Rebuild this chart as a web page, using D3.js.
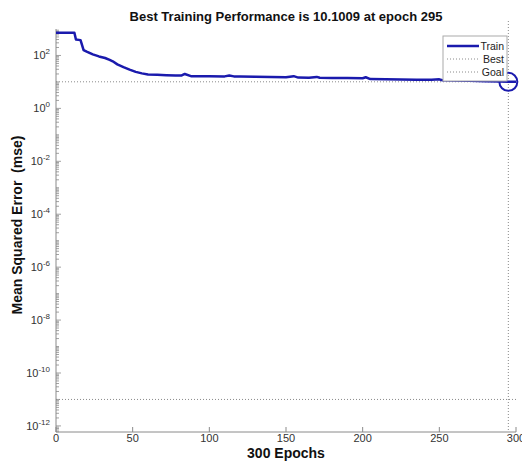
<!DOCTYPE html>
<html>
<head>
<meta charset="utf-8">
<script src="https://cdn.jsdelivr.net/npm/d3@7"></script>
<style>
  body { margin: 0; background: #fff; }
  svg text { font-family: "Liberation Sans", Arial, sans-serif; }
</style>
</head>
<body>
<svg width="522" height="462"></svg>
<script>
// training record
const epochs = [0, 12, 13, 16, 18, 20, 24, 28, 32, 35, 37, 40, 44, 48, 52, 56, 60, 66, 72, 78, 82, 84, 88,
  100, 110, 113, 116, 120, 130, 140, 150, 155, 158, 165, 170, 172, 180, 190, 200, 202, 205, 215, 225,
  235, 245, 250, 252, 260, 270, 280, 290, 295, 300];
const mse = [720, 720, 400, 380, 160, 140, 110, 92, 80, 68, 60, 46, 36, 29, 24, 21, 19, 18.5, 18, 17.5, 17.5, 20, 16.5,
  16.3, 16.2, 17.5, 16.2, 16, 15.8, 15.2, 15, 16.5, 14.6, 14.5, 15.5, 14.3, 14.2, 14, 13.8, 15, 12.8, 12.6, 12.4,
  12.2, 12, 12.5, 11.5, 11.2, 11, 10.7, 10.4, 10.1, 10.1];

const bestEpoch = 295;
const bestPerf = 10.1009;
const goal = 1e-11;
const xTicks = [0, 50, 100, 150, 200, 250, 300];
const yTickExps = [2, 0, -2, -4, -6, -8, -10, -12];
const legendNames = ['Train', 'Best', 'Goal'];

const svg = d3.select('svg');
const pLeft = 56, pRight = 516, pTop = 29, pBottom = 432;
const blue = '#1a1aad', grey = '#8a8a8a';

const x = d3.scaleLinear().domain([0, 300]).range([pLeft, pRight]);
const y = d3.scaleLog().domain([Math.pow(10, -12.23), 1000]).range([pBottom, pTop]);

// title
svg.append('text').attr('x', (pLeft + pRight) / 2).attr('y', 21)
  .attr('text-anchor', 'middle').style('font-size', '13px').style('font-weight', 'bold')
  .attr('fill', '#111')
  .text('Best Training Performance is ' + bestPerf + ' at epoch ' + bestEpoch);

// axes lines
svg.append('line').attr('x1', pLeft).attr('x2', pRight).attr('y1', pBottom).attr('y2', pBottom)
  .attr('stroke', grey).attr('stroke-width', 1);
svg.append('line').attr('x1', pLeft).attr('x2', pLeft).attr('y1', pTop).attr('y2', pBottom)
  .attr('stroke', grey).attr('stroke-width', 1);

// x ticks (inward)
svg.selectAll('.xt').data(xTicks).join('line')
  .attr('x1', d => x(d)).attr('x2', d => x(d)).attr('y1', pBottom).attr('y2', pBottom - 5)
  .attr('stroke', grey);
svg.selectAll('.xl').data(xTicks).join('text')
  .attr('x', d => x(d)).attr('y', pBottom + 10).attr('text-anchor', 'middle')
  .style('font-size', '11px').attr('fill', '#333').text(d => d);

// y minor ticks
const minor = [];
for (let e = -13; e < 3; e++) {
  for (let m = 1; m < 10; m++) {
    const v = m * Math.pow(10, e);
    if (v >= y.domain()[0] && v <= 1000) minor.push({ v: v, major: m === 1 && e % 2 === 0 });
  }
}
svg.selectAll('.ym').data(minor).join('line')
  .attr('x1', pLeft).attr('x2', d => pLeft + (d.major ? 5 : 3))
  .attr('y1', d => y(d.v)).attr('y2', d => y(d.v))
  .attr('stroke', grey).attr('stroke-width', 0.8);

// y tick labels
const yl = svg.selectAll('.yl').data(yTickExps).join('text')
  .attr('x', 50).attr('y', d => y(Math.pow(10, d)) + 4).attr('text-anchor', 'end')
  .style('font-size', '11px').attr('fill', '#333');
yl.append('tspan').text('10');
yl.append('tspan').attr('dy', -5).style('font-size', '8px').text(d => d);

// axis labels
svg.append('text').attr('x', (pLeft + pRight) / 2).attr('y', 458).attr('text-anchor', 'middle')
  .style('font-size', '14px').style('font-weight', 'bold').attr('fill', '#111').text('300 Epochs');
svg.append('text').attr('transform', 'translate(22,225) rotate(-90)')
  .attr('text-anchor', 'middle').style('font-size', '14px').style('font-weight', 'bold')
  .style('white-space', 'pre').attr('fill', '#111').text('Mean Squared Error  (mse)');

// best / goal dotted lines
svg.append('line').attr('x1', pLeft).attr('x2', pRight).attr('y1', y(bestPerf)).attr('y2', y(bestPerf))
  .attr('stroke', grey).attr('stroke-dasharray', '1,2');
svg.append('line').attr('x1', x(bestEpoch)).attr('x2', x(bestEpoch)).attr('y1', pTop - 8).attr('y2', pBottom)
  .attr('stroke', grey).attr('stroke-dasharray', '1,2');
svg.append('line').attr('x1', pLeft).attr('x2', pRight).attr('y1', y(goal)).attr('y2', y(goal))
  .attr('stroke', grey).attr('stroke-dasharray', '1,2');

// train line
const pts = epochs.map((e, i) => [e, mse[i]]);
svg.append('path').datum(pts)
  .attr('d', d3.line().x(d => x(d[0])).y(d => y(d[1])))
  .attr('fill', 'none').attr('stroke', blue).attr('stroke-width', 2.5).attr('stroke-linejoin', 'round');

// best marker
svg.append('circle').attr('cx', x(bestEpoch)).attr('cy', y(bestPerf)).attr('r', 9)
  .attr('fill', 'none').attr('stroke', blue).attr('stroke-width', 2);

// legend
const lg = svg.append('g').attr('transform', 'translate(443,36)');
lg.append('rect').attr('width', 64).attr('height', 45).attr('fill', '#fff')
  .attr('stroke', '#aaa').attr('stroke-width', 1);
legendNames.forEach((n, i) => {
  const yy = 10 + i * 13;
  lg.append('line').attr('x1', 4).attr('x2', 36).attr('y1', yy).attr('y2', yy)
    .attr('stroke', i === 0 ? blue : grey).attr('stroke-width', i === 0 ? 2.5 : 1)
    .attr('stroke-dasharray', i === 0 ? null : '1,2');
  lg.append('text').attr('x', 61).attr('y', yy + 4).attr('text-anchor', 'end')
    .style('font-size', '10.5px').attr('fill', '#222').text(n);
});
</script>
</body>
</html>
